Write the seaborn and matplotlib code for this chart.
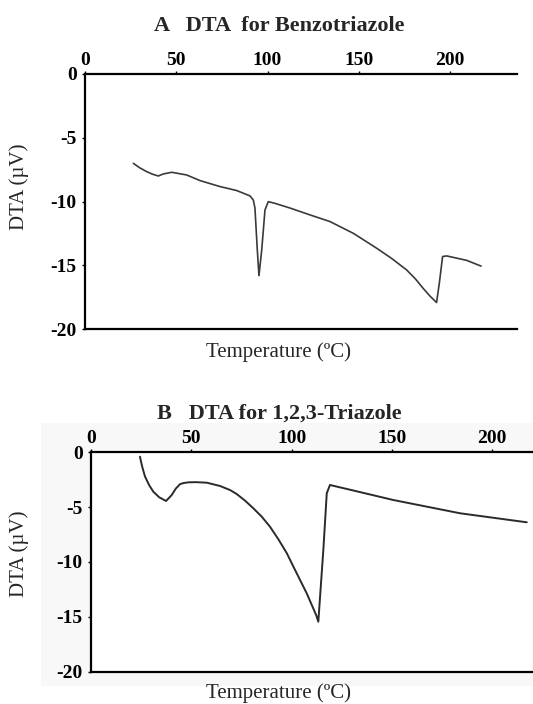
import numpy as np
import pandas as pd
import matplotlib
matplotlib.use("Agg")
import matplotlib.pyplot as plt
import seaborn as sns
from matplotlib.patches import Rectangle

# ---- Data ----
# Panel A: DTA for Benzotriazole
temp_a = [26.5, 30, 33.8, 37, 40.2, 42.9, 47.5, 55.7, 63, 74, 83.1, 90.4, 92.2, 93.1,
          94.4, 95.3, 96.8, 98.6, 100.4, 104, 112.3, 123.3, 134.2, 147, 159.8, 168,
          176.2, 181, 185.3, 189, 192.6, 194.1, 195.9, 198.1, 209.1, 217]
dta_a = [-7.0, -7.35, -7.65, -7.85, -7.99, -7.83, -7.7, -7.91, -8.35, -8.82, -9.13, -9.55,
         -9.87, -10.5, -13.8, -15.8, -13.8, -10.65, -10.0, -10.13, -10.5, -11.04, -11.56,
         -12.48, -13.65, -14.45, -15.35, -16.05, -16.8, -17.4, -17.9, -16.4, -14.3, -14.25,
         -14.6, -15.05]

# Panel B: DTA for 1,2,3-Triazole
temp_b = [24.4, 25.5, 26.9, 29, 31.1, 34, 37.4, 40.2, 42.3, 44.4, 46.2, 48.5, 52, 57.7,
          64.3, 69.3, 72.6, 76.8, 80.9, 85.1, 89.2, 93.4, 97.6, 100.9, 104.2, 107.5, 110,
          112.2, 113.3, 115.8, 117.5, 119.1, 130, 150.7, 184, 217.2]
dta_b = [-0.4, -1.3, -2.2, -3.0, -3.6, -4.1, -4.44, -3.9, -3.3, -2.9, -2.8, -2.74, -2.72,
         -2.77, -3.07, -3.44, -3.8, -4.41, -5.1, -5.87, -6.78, -7.93, -9.2, -10.43, -11.64,
         -12.85, -13.9, -14.83, -15.44, -8.9, -3.74, -2.98, -3.45, -4.35, -5.56, -6.38]

x_ticks = [0, 50, 100, 150, 200]
y_ticks = [0, -5, -10, -15, -20]
title_a = "A   DTA  for Benzotriazole"
title_b = "B   DTA for 1,2,3-Triazole"
xlabel = "Temperature (ºC)"
ylabel = "DTA (µV)"

sns.set_style("white")
plt.rcParams["font.family"] = ["Liberation Serif", "DejaVu Serif"]
plt.rcParams["axes.unicode_minus"] = False

W, H = 533, 704
fig = plt.figure(figsize=(W / 100, H / 100), dpi=100)

# faint gray backdrop behind panel B (scan artefact in reference)
fig.add_artist(Rectangle((41 / W, 1 - 686 / H), (W - 41) / W, (686 - 423) / H,
                         transform=fig.transFigure, facecolor="#f8f8f8",
                         edgecolor="none", zorder=-10))

def px_axes(left, top, right, bottom):
    return fig.add_axes([left / W, 1 - bottom / H, (right - left) / W, (bottom - top) / H])

ax_a = px_axes(85, 74, 516.7, 329.3)
ax_b = px_axes(91, 452.3, 532, 671.7)

df_a = pd.DataFrame({"T": temp_a, "DTA": dta_a})
df_b = pd.DataFrame({"T": temp_b, "DTA": dta_b})
sns.lineplot(data=df_a, x="T", y="DTA", ax=ax_a, sort=False, estimator=None,
             color="#3a3a3a", linewidth=1.2)
sns.lineplot(data=df_b, x="T", y="DTA", ax=ax_b, sort=False, estimator=None,
             color="#2a2a2a", linewidth=1.4)

setups = [
    (ax_a, 236.5, title_a, 30.6, (-0.13, 0.557), (0.449, -0.05)),
    (ax_b, 219.8, title_b, 419.0, (-0.141, 0.539), (0.425, -0.0515)),
]
for ax, xmax, title, title_y, ylab_pos, xlab_pos in setups:
    ax.set_facecolor("white")
    ax.set_xlim(0, xmax)
    ax.set_ylim(-20, 0)
    ax.xaxis.tick_top()
    ax.set_xticks(x_ticks)
    ax.set_yticks(y_ticks)
    ax.set_xticklabels([str(v) for v in x_ticks], fontweight="bold", fontsize=14)
    ax.set_yticklabels([str(v) for v in y_ticks], fontweight="bold", fontsize=14)
    ax.tick_params(axis="x", which="both", top=True, bottom=False, length=2.5,
                   width=1, pad=1.2, color="black", labelcolor="black")
    ax.tick_params(axis="y", which="both", left=True, length=2.5, width=1, pad=3.5,
                   color="black", labelcolor="black")
    for side in ["left", "top", "bottom"]:
        ax.spines[side].set_visible(True)
        ax.spines[side].set_linewidth(1.6)
        ax.spines[side].set_color("black")
    ax.spines["right"].set_visible(False)
    ax.set_xlabel(xlabel, fontsize=15)
    ax.set_ylabel(ylabel, fontsize=15)
    ax.xaxis.set_label_position("bottom")
    ax.xaxis.set_label_coords(*xlab_pos)
    ax.yaxis.set_label_coords(*ylab_pos)
    fig.text(279 / W, 1 - title_y / H, title, ha="center", va="baseline",
             fontsize=16, fontweight="bold")

fig.savefig("out.png", dpi=100)
